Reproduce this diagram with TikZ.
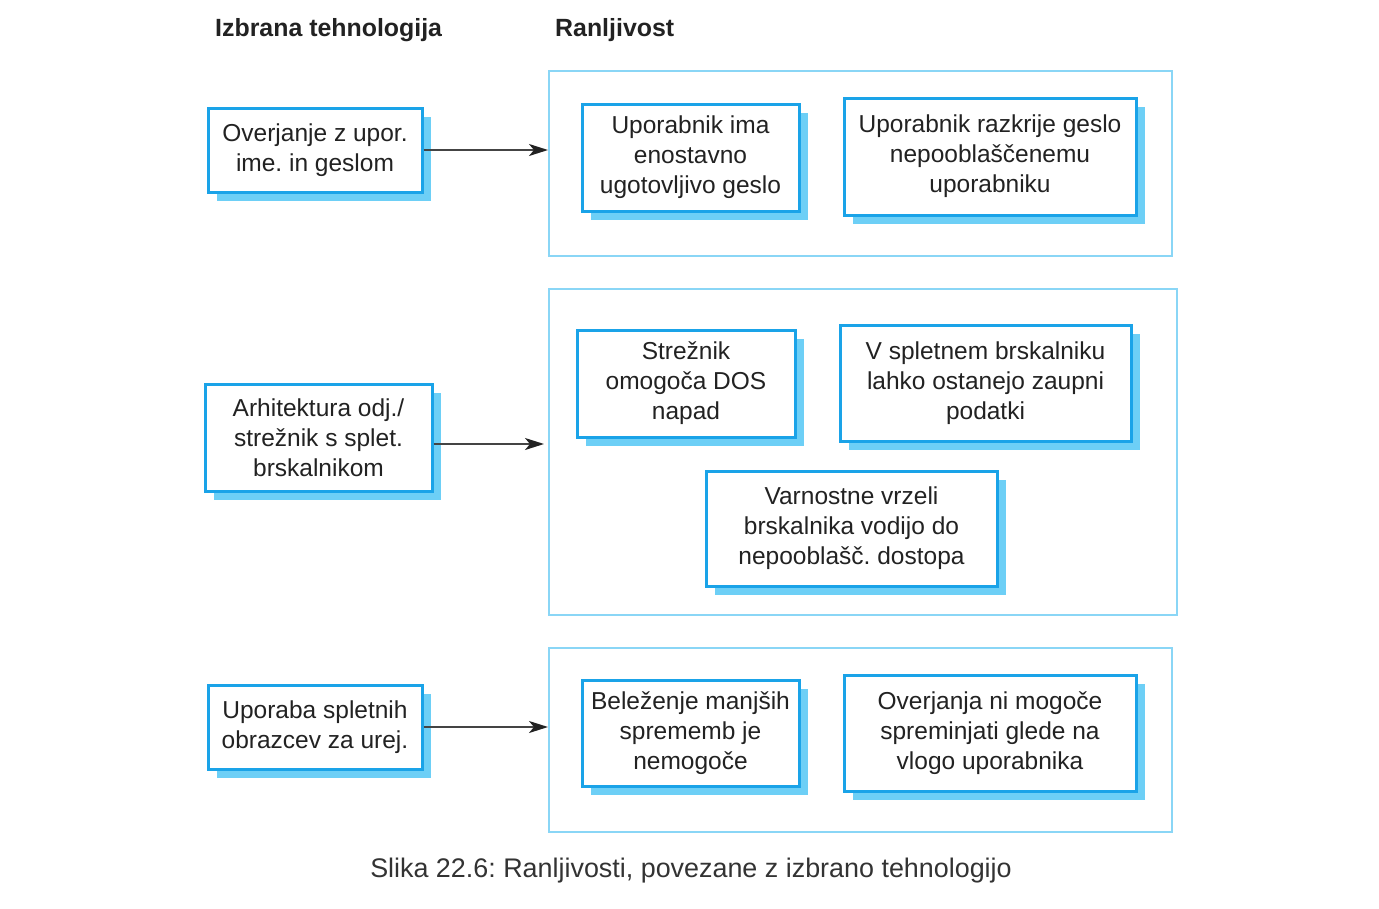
\documentclass[tikz,border=0pt]{standalone}
\usepackage{fontspec}
\setmainfont{Liberation Sans}
\usetikzlibrary{shadows,arrows.meta}
\definecolor{boxblue}{HTML}{1AA3E8}
\definecolor{shadowblue}{HTML}{6DCFF6}
\definecolor{contblue}{HTML}{8AD6F6}
\definecolor{txt}{HTML}{222222}
\definecolor{linkgray}{HTML}{444444}
\definecolor{captxt}{HTML}{333333}
\tikzset{
 techbox/.style={draw=boxblue, line width=3pt, fill=white, align=center, inner sep=0pt,
   font=\frenchspacing\fontsize{24.5}{30}\selectfont, text=txt,
   drop shadow={shadow xshift=9pt, shadow yshift=-9pt, fill=shadowblue, opacity=1}},
 container/.style={draw=contblue, line width=2pt, inner sep=0pt},
 heading/.style={font=\bfseries\fontsize{24.9}{28}\selectfont, text=txt, anchor=west, inner sep=0pt},
 link/.style={draw=linkgray, line width=2pt, arrows={-Stealth[length=19pt,width=12pt,inset=5pt,color=txt]}},
 caption/.style={font=\frenchspacing\fontsize{26.9}{30}\selectfont, text=captxt, inner sep=0pt}
}
\begin{document}
\begin{tikzpicture}[x=1pt,y=-1pt]
\useasboundingbox (0,0) rectangle (1379,908);
% headings
\node[heading] (h1) at (215,30) {Izbrana tehnologija};
\node[heading] (h2) at (555,30) {Ranljivost};
% containers
\node[container, minimum width=623pt, minimum height=185pt] (c1) at (860.5,163.5) {};
\node[container, minimum width=628pt, minimum height=326pt] (c2) at (863,452) {};
\node[container, minimum width=623pt, minimum height=184pt] (c3) at (860.5,740) {};
% technology boxes
\node[techbox, minimum width=214pt, minimum height=84pt] (t1) at (315,150) {Overjanje z upor.\\ime. in geslom};
\node[techbox, minimum width=227pt, minimum height=107pt] (t2) at (318.5,437.5) {Arhitektura odj./\\strežnik s splet.\\brskalnikom};
\node[techbox, minimum width=214pt, minimum height=84pt] (t3) at (315,727) {Uporaba spletnih\\obrazcev za urej.};
% vulnerability boxes
\node[techbox, minimum width=217pt, minimum height=107pt] (v11) at (690.5,157.5) {Uporabnik ima\\enostavno\\ugotovljivo geslo};
\node[techbox, minimum width=292pt, minimum height=117pt] (v12) at (990,156.5) {Uporabnik razkrije geslo\\nepooblaščenemu\\uporabniku};
\node[techbox, minimum width=218pt, minimum height=107pt] (v21) at (686,383.5) {Strežnik\\omogoča DOS\\napad};
\node[techbox, minimum width=291pt, minimum height=116pt] (v22) at (985.5,383) {V spletnem brskalniku\\lahko ostanejo zaupni\\podatki};
\node[techbox, minimum width=291pt, minimum height=115pt] (v23) at (851.5,528.5) {Varnostne vrzeli\\brskalnika vodijo do\\nepooblašč. dostopa};
\node[techbox, minimum width=217pt, minimum height=106pt] (v31) at (690.5,733) {Beleženje manjših\\sprememb je\\nemogoče};
\node[techbox, minimum width=292pt, minimum height=116pt] (v32) at (990,733) {Overjanja ni mogoče\\spreminjati glede na\\vlogo uporabnika};
% arrows
\draw[link] (t1.east) -- (c1.west |- t1.east);
\draw[link] ([yshift=-6.5pt]t2.east) -- ([xshift=-4pt,yshift=-6.5pt]c2.west |- t2.east);
\draw[link] (t3.east) -- (c3.west |- t3.east);
% caption
\node[caption] (cap) at (691,871) {Slika 22.6: Ranljivosti, povezane z izbrano tehnologijo};
\end{tikzpicture}
\end{document}
